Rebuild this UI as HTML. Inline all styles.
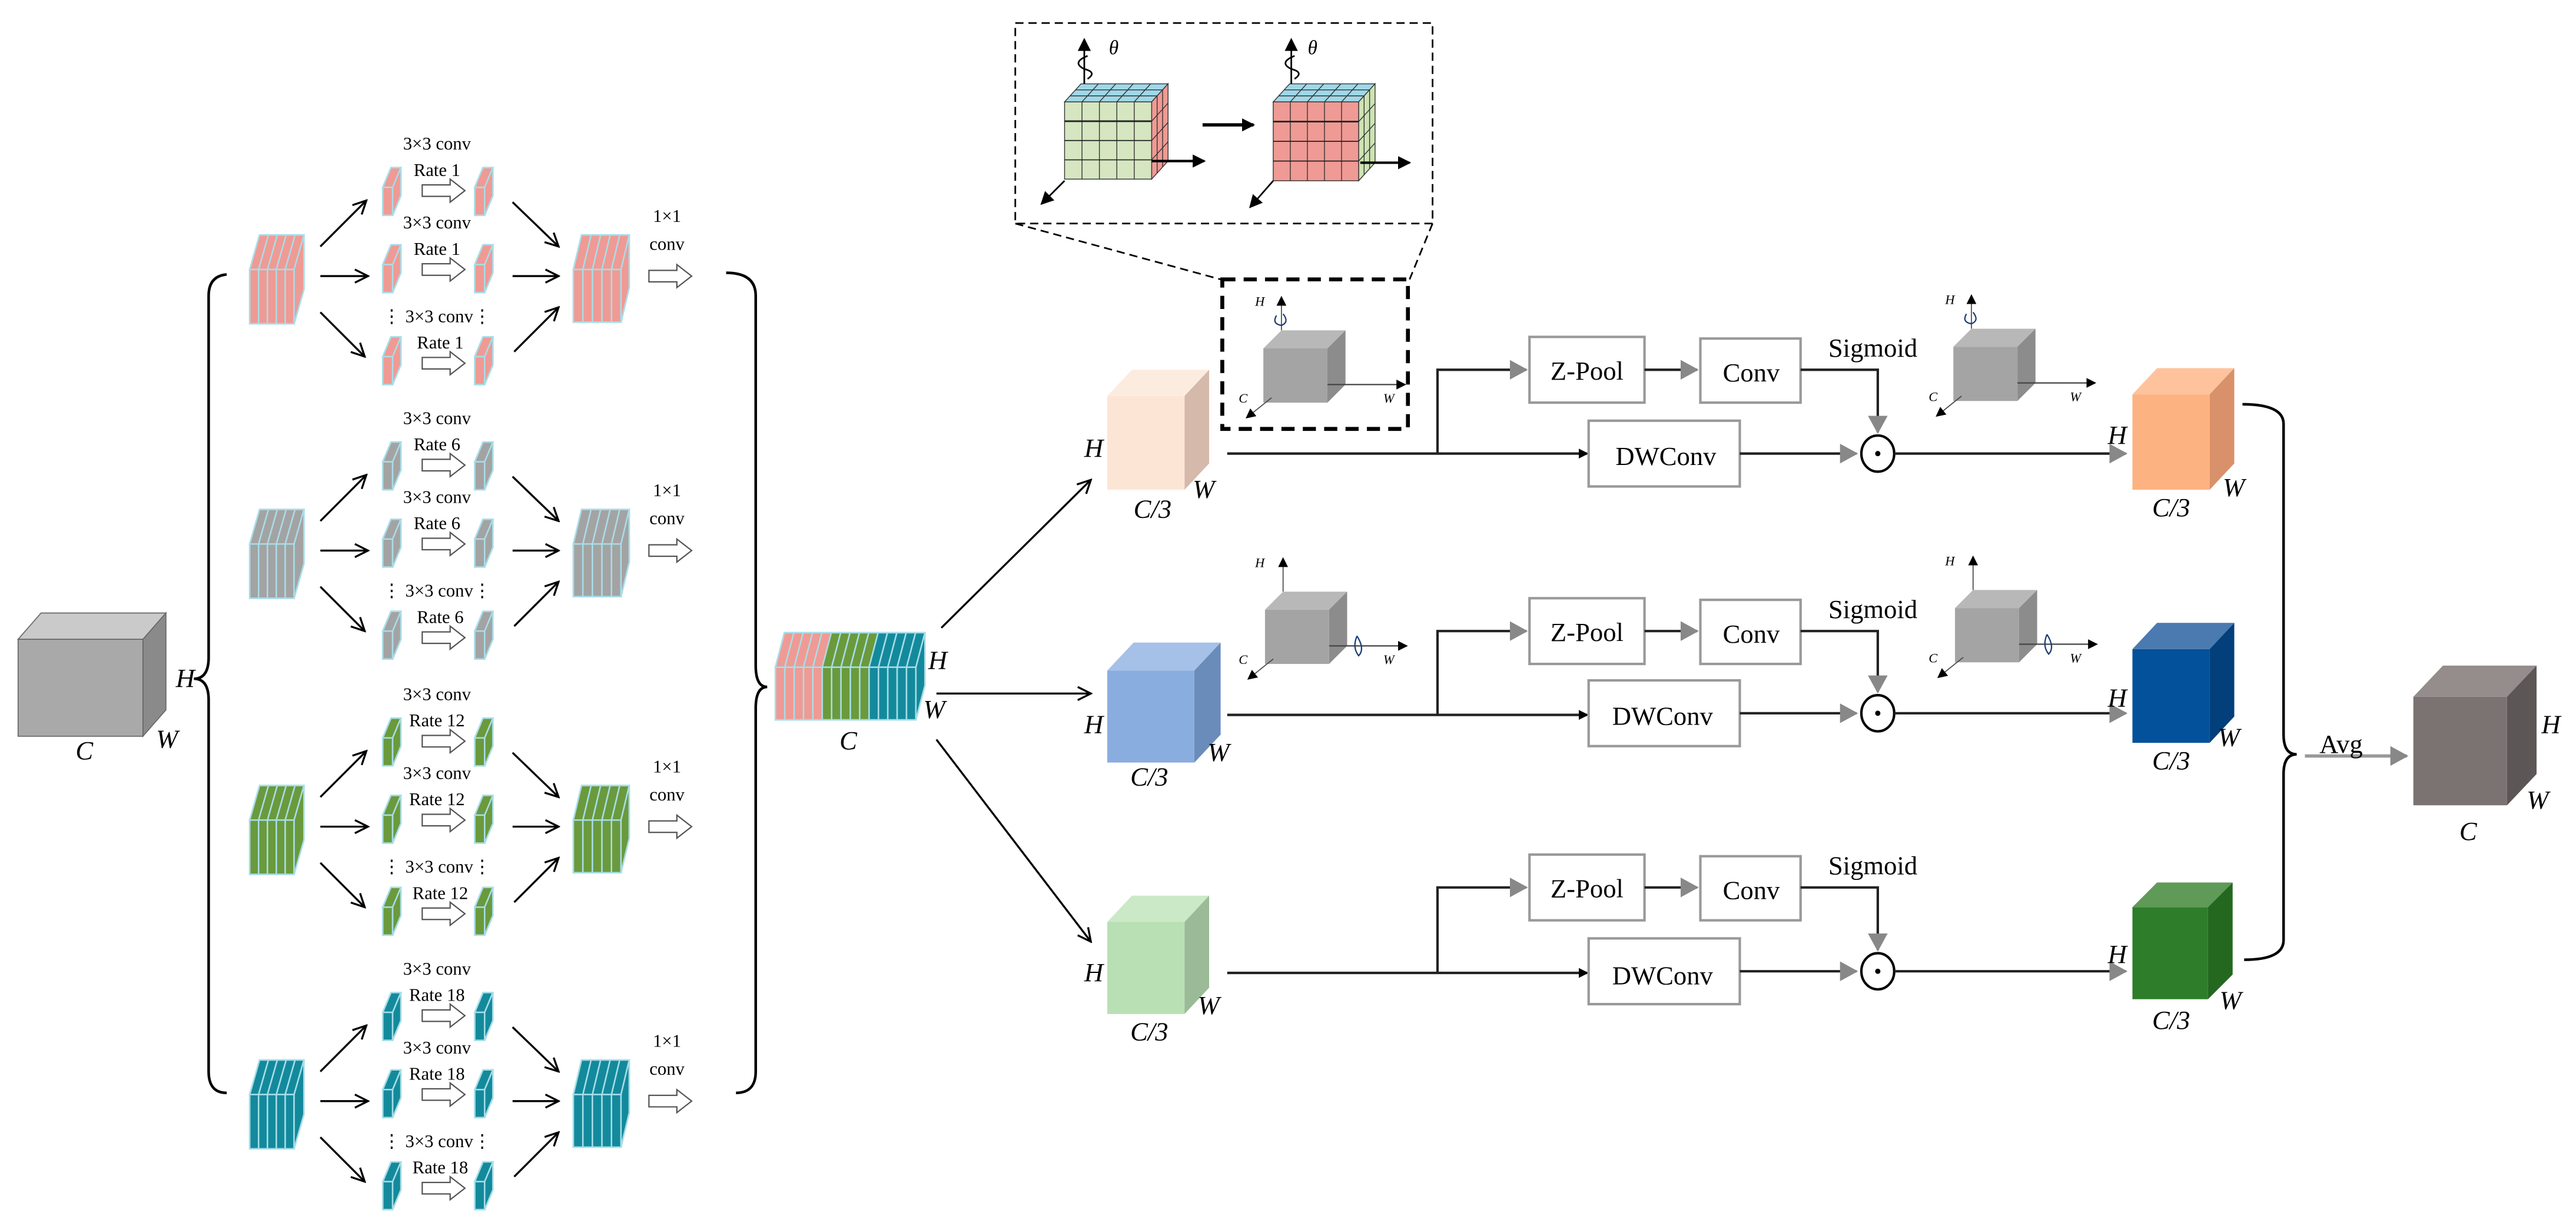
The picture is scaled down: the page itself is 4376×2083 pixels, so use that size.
<!DOCTYPE html>
<html><head><meta charset="utf-8"><style>html,body{margin:0;padding:0;background:#fff}svg{display:block}svg text{font-family:"Liberation Serif",serif}</style></head>
<body>
<svg id="s" xmlns="http://www.w3.org/2000/svg" width="4376" height="2083" viewBox="0 0 1568 746" preserveAspectRatio="none" font-family="Liberation Serif, serif">
<defs>
<marker id="ob" markerWidth="10" markerHeight="10" refX="9" refY="5" orient="auto" markerUnits="userSpaceOnUse"><path d="M1,1 L9,5 L1,9" fill="none" stroke="#000" stroke-width="1.2"/></marker>
<marker id="gt" markerWidth="12" markerHeight="12" refX="10" refY="6" orient="auto" markerUnits="userSpaceOnUse"><path d="M0,0 L11,6 L0,12 z" fill="#888"/></marker>
<marker id="bk" markerWidth="8" markerHeight="8" refX="7" refY="4" orient="auto" markerUnits="userSpaceOnUse"><path d="M0,0 L8,4 L0,8 z" fill="#000"/></marker>
<marker id="bs" markerWidth="6" markerHeight="6" refX="5" refY="3" orient="auto" markerUnits="userSpaceOnUse"><path d="M0,0 L6,3 L0,6 z" fill="#000"/></marker>
</defs>
<g id="shapes"></g>
<g font-size="11" text-anchor="middle" fill="#000" font-family="Liberation Serif, serif">
<text x="266" y="91">3×3 conv</text><text x="266" y="107">Rate 1</text>
<text x="266" y="139">3×3 conv</text><text x="266" y="155">Rate 1</text>
<text x="266" y="196">⋮ 3×3 conv⋮</text><text x="268" y="212">Rate 1</text>
<text x="406" y="135">1×1</text><text x="406" y="152">conv</text>
<text x="266" y="258">3×3 conv</text><text x="266" y="274">Rate 6</text>
<text x="266" y="306">3×3 conv</text><text x="266" y="322">Rate 6</text>
<text x="266" y="363">⋮ 3×3 conv⋮</text><text x="268" y="379">Rate 6</text>
<text x="406" y="302">1×1</text><text x="406" y="319">conv</text>
<text x="266" y="426">3×3 conv</text><text x="266" y="442">Rate 12</text>
<text x="266" y="474">3×3 conv</text><text x="266" y="490">Rate 12</text>
<text x="266" y="531">⋮ 3×3 conv⋮</text><text x="268" y="547">Rate 12</text>
<text x="406" y="470">1×1</text><text x="406" y="487">conv</text>
<text x="266" y="593">3×3 conv</text><text x="266" y="609">Rate 18</text>
<text x="266" y="641">3×3 conv</text><text x="266" y="657">Rate 18</text>
<text x="266" y="698">⋮ 3×3 conv⋮</text><text x="268" y="714">Rate 18</text>
<text x="406" y="637">1×1</text><text x="406" y="654">conv</text>
</g>
<g font-style="italic" font-size="16" fill="#000" font-family="Liberation Serif, serif">
<text x="46" y="462">C</text><text x="95" y="455">W</text><text x="107" y="418">H</text>
<text x="565" y="407">H</text><text x="562" y="437">W</text><text x="511" y="456">C</text>
<text x="660" y="278">H</text><text x="726" y="303">W</text><text x="690" y="315">C/3</text>
<text x="660" y="446">H</text><text x="735" y="463">W</text><text x="688" y="478">C/3</text>
<text x="660" y="597">H</text><text x="729" y="617">W</text><text x="688" y="633">C/3</text>
<text x="1283" y="270">H</text><text x="1353" y="302">W</text><text x="1310" y="314">C/3</text>
<text x="1283" y="430">H</text><text x="1350" y="454">W</text><text x="1310" y="468">C/3</text>
<text x="1283" y="586">H</text><text x="1351" y="614">W</text><text x="1310" y="626">C/3</text>
<text x="1547" y="446">H</text><text x="1538" y="492">W</text><text x="1497" y="511">C</text>
</g>
<g font-style="italic" font-size="8" fill="#000" font-family="Liberation Serif, serif">
<text x="764" y="186">H</text><text x="754" y="245">C</text><text x="842" y="245">W</text>
<text x="1184" y="185">H</text><text x="1174" y="244">C</text><text x="1260" y="244">W</text>
<text x="764" y="345">H</text><text x="754" y="404">C</text><text x="842" y="404">W</text>
<text x="1184" y="344">H</text><text x="1174" y="403">C</text><text x="1260" y="403">W</text>
<text x="675" y="33" font-size="12">θ</text><text x="796" y="33" font-size="12">θ</text>
</g>
<g font-size="16" fill="#000" text-anchor="middle" font-family="Liberation Serif, serif">
<text x="966" y="231">Z-Pool</text><text x="1066" y="232">Conv</text><text x="1014" y="283">DWConv</text><text x="1140" y="217">Sigmoid</text>
<text x="966" y="390">Z-Pool</text><text x="1066" y="391">Conv</text><text x="1012" y="441">DWConv</text><text x="1140" y="376">Sigmoid</text>
<text x="966" y="546">Z-Pool</text><text x="1066" y="547">Conv</text><text x="1012" y="599">DWConv</text><text x="1140" y="532">Sigmoid</text>
<text x="1425" y="458">Avg</text>
</g>
</svg>
<script>
var NS="http://www.w3.org/2000/svg",G=document.getElementById("shapes");
function el(t,a){var e=document.createElementNS(NS,t);for(var k in a)e.setAttribute(k,a[k]);G.appendChild(e);return e;}
function P(pts){return pts.map(function(p){return p.join(",")}).join(" ");}
function cube(x,y,w,h,dx,dy,f,t,s,st,sw){st=st||"none";sw=sw||1;
 el("polygon",{points:P([[x,y],[x+dx,y+dy],[x+w+dx,y+dy],[x+w,y]]),fill:t,stroke:st,"stroke-width":sw});
 el("polygon",{points:P([[x+w,y],[x+w+dx,y+dy],[x+w+dx,y+h+dy],[x+w,y+h]]),fill:s,stroke:st,"stroke-width":sw});
 el("rect",{x:x,y:y,width:w,height:h,fill:f,stroke:st,"stroke-width":sw});}
function stack(x,y,w,h,dx,dy,cols,n){var L="#a8dde8";var tot=cols.length*n,sw=w/tot;
 cube(x,y,w,h,dx,dy,cols[0],cols[0],cols[cols.length-1],L,1);
 for(var i=0;i<tot;i++){var c=cols[Math.floor(i/n)];var xx=x+i*sw;
  el("polygon",{points:P([[xx,y],[xx+dx,y+dy],[xx+sw+dx,y+dy],[xx+sw,y]]),fill:c,stroke:L,"stroke-width":0.9});
  el("rect",{x:xx,y:y,width:sw,height:h,fill:c,stroke:L,"stroke-width":0.9});}
 el("polygon",{points:P([[x+w,y],[x+w+dx,y+dy],[x+w+dx,y+h+dy],[x+w,y+h]]),fill:cols[cols.length-1],stroke:L,"stroke-width":0.9});}
function line(x1,y1,x2,y2,m,c,w){var a={x1:x1,y1:y1,x2:x2,y2:y2,stroke:c||"#000","stroke-width":w||1.2};if(m)a["marker-end"]="url(#"+m+")";return el("line",a);}
function poly(pts,m,c,w){var a={points:P(pts),fill:"none",stroke:c||"#222","stroke-width":w||1.5};if(m)a["marker-end"]="url(#"+m+")";return el("polyline",a);}
function harrow(x0,x1,cy){el("polygon",{points:P([[x0,cy-3.5],[x1-9,cy-3.5],[x1-9,cy-7],[x1,cy],[x1-9,cy+7],[x1-9,cy+3.5],[x0,cy+3.5]]),fill:"#fff",stroke:"#555","stroke-width":0.8});}
cube(11,389,76,59,14,-16,"#a9a9a9","#cacaca","#8a8a8a","#666",0.6);
el("path",{d:"M138,167 Q127,168 127,180 L127,400 Q127,413 118,413 Q127,413 127,426 L127,652 Q127,665 138,665",fill:"none",stroke:"#000","stroke-width":1.6});
el("path",{d:"M442,166 Q460,166 460,180 L460,405 Q460,418 467,418 Q460,418 460,431 L460,652 Q460,665 448,665",fill:"none",stroke:"#000","stroke-width":1.6});
var groups=[[0,"#ef9a94"],[167,"#a3a3a3"],[335,"#6a9a3c"],[502,"#138a9c"]];
groups.forEach(function(g){var o=g[0],c=g[1];
 stack(152,164+o,27,33,6,-21,[c],5);
 stack(349,164+o,29,32,5,-21,[c],5);
 [114,161,217].forEach(function(y){stack(233,y+o,6,17,5,-12,[c],1);stack(289,y+o,6,17,5,-12,[c],1);});
 harrow(257,283,116+o);harrow(257,283,164+o);harrow(257,283,221+o);harrow(395,421,168+o);
 line(195,150+o,223,122+o,"ob");line(195,168+o,224,168+o,"ob");line(195,190+o,222,217+o,"ob");
 line(312,123+o,340,150+o,"ob");line(312,168+o,340,168+o,"ob");line(313,214+o,340,187+o,"ob");
});
stack(472,406,85.5,32,5.5,-21,["#ef9a94","#6a9a3c","#138a9c"],5);
line(573,382,664,292,"ob");line(570,422,664,422,"ob");line(570,450,664,573,"ob");
cube(674,241,47,57,15,-16,"#fde5d6","#fcecdf","#d5b9ab");
cube(674,408,53,56,16,-17,"#8aade0","#a6c1e8","#6a8cba");
cube(674,561,47,56,15,-16,"#b8e0b4","#cbe9c7","#9bba97");
cube(1298,240,47,58,15,-16,"#fdb381","#fec39c","#d8916a");
cube(1298,395,47,57,15,-16,"#03519b","#4a7ab0","#023f7b");
cube(1298,552,46,56,15,-15,"#2e7d2a","#5f9a58","#246820");
cube(1469,424,57,66,18,-19,"#7b7371","#948d8b","#5c5657");
el("rect",{x:618,y:14,width:254,height:122,fill:"none",stroke:"#000","stroke-width":1,"stroke-dasharray":"5,3"});
line(618,136,743,170,null,"#000",1).setAttribute("stroke-dasharray","5,3");
line(872,136,858,170,null,"#000",1).setAttribute("stroke-dasharray","5,3");
el("rect",{x:744,y:170,width:113,height:91,fill:"none",stroke:"#000","stroke-width":2.4,"stroke-dasharray":"8,5"});
function gcube(x,y,w,h,dx,dy,f,t,s){cube(x,y,w,h,dx,dy,f,t,s,"#333",0.5);
 for(var i=1;i<5;i++){line(x+i*w/5,y,x+i*w/5,y+h,null,"#333",0.5);line(x+i*w/5,y,x+i*w/5+dx,y+dy,null,"#333",0.5);}
 for(var j=1;j<4;j++){line(x,y+j*h/4,x+w,y+j*h/4,null,"#222",j==1?1:0.6);line(x+w,y+j*h/4,x+w+dx,y+j*h/4+dy,null,"#333",0.5);}
 for(var k=1;k<3;k++){line(x+k*dx/3,y+k*dy/3,x+w+k*dx/3,y+k*dy/3,null,"#333",0.5);line(x+w+k*dx/3,y+k*dy/3,x+w+k*dx/3,y+h+k*dy/3,null,"#333",0.5);}}
gcube(648,62,53,47,10,-11,"#d5e6c0","#9fd8e8","#ef9a94");
gcube(775,62,52,48,10,-11,"#ef9a94","#9fd8e8","#cde3b3");
line(660,51,660,24,"bk","#000",1);line(786,51,786,24,"bk","#000",1);
line(701,98,733,98,"bk","#000",1.5);line(828,99,858,99,"bk","#000",1.5);
line(648,110,634,124,"bk","#000",1);line(775,110,761,126,"bk","#000",1);
line(732,76,763,76,"bk","#000",2);
el("path",{d:"M662,34 Q652,38 660,42 Q668,44 662,48",fill:"none",stroke:"#000","stroke-width":1});
el("path",{d:"M788,34 Q778,38 786,42 Q794,44 788,48",fill:"none",stroke:"#000","stroke-width":1});
function acube(x,y,rotTop){cube(x,y,39,33,11,-11,"#a4a4a4","#b8b8b8","#8c8c8c");
 line(x+11,y-11,x+11,y-31,"bs","#444",0.6);line(x+39,y+22,x+86,y+22,"bs","#444",0.8);line(x+5,y+30,x-10,y+42,"bs","#444",0.6);
 if(rotTop)el("path",{d:"M"+(x+8)+","+(y-20)+" q-3,5 3,6 q5,-2 1,-7",fill:"none",stroke:"#1a3c78","stroke-width":0.8});
 else el("path",{d:"M"+(x+56)+","+(y+16)+" q-3,7 1,12 q4,-4 -1,-12",fill:"none",stroke:"#1a3c78","stroke-width":0.8});}
acube(769,212,true);acube(1189,211,true);acube(770,371,false);acube(1190,370,false);
function branch(yM,zy,cy,x0){
 line(x0,yM,966,yM,"bs","#222",1.5);
 poly([[875,yM],[875,zy],[929,zy]],"gt","#222",1.5);
 el("rect",{x:931,y:zy-20,width:70,height:40,fill:"#fff",stroke:"#999","stroke-width":1.5});
 line(1001,zy,1033,zy,"gt","#222",1.5);
 el("rect",{x:1035,y:zy-19,width:61,height:39,fill:"#fff",stroke:"#999","stroke-width":1.5});
 poly([[1096,zy],[1143,zy],[1143,cy-13]],"gt","#222",1.5);
 el("rect",{x:967,y:cy-20,width:92,height:40,fill:"#fff",stroke:"#999","stroke-width":1.5});
 line(1059,cy,1130,cy,"gt","#222",1.5);
 el("ellipse",{cx:1143,cy:cy,rx:10,ry:11,fill:"#fff",stroke:"#000","stroke-width":1.5});
 el("circle",{cx:1143,cy:cy,r:1.6,fill:"#000"});
 line(1153,cy,1294,cy,"gt","#222",1.5);}
branch(276,225,276,747);
branch(435,384,434,747);
branch(592,540,591,747);
el("path",{d:"M1365,246 Q1390,246 1390,258 L1390,447 Q1390,459 1398,459 Q1390,459 1390,471 L1390,572 Q1390,584 1366,584",fill:"none",stroke:"#000","stroke-width":1.6});
line(1403,460,1465,460,"gt","#999",2);
</script>
</body></html>
